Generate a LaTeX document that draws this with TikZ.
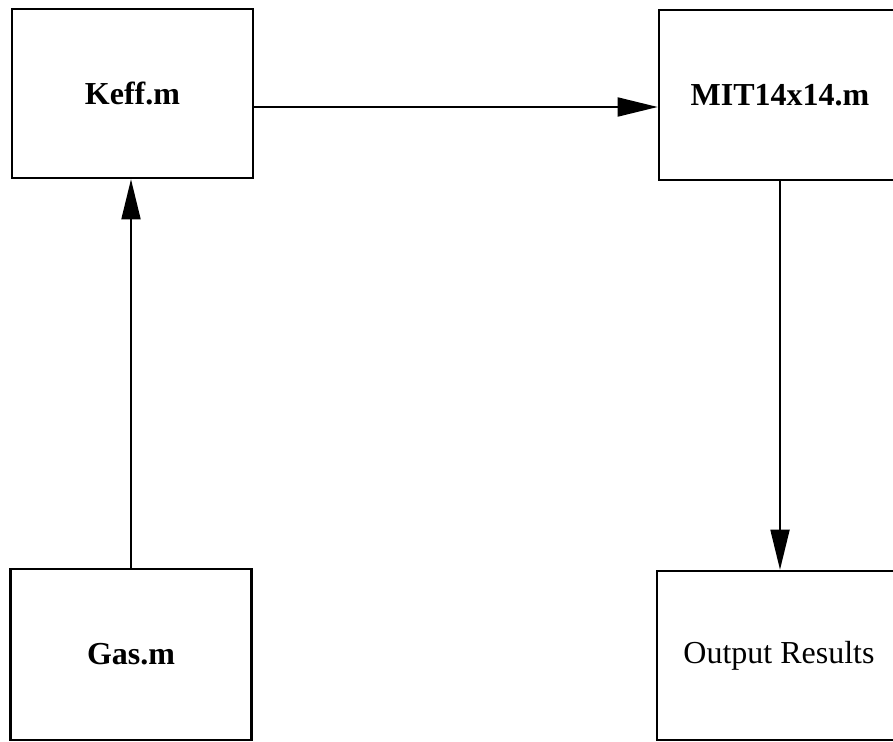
\documentclass[tikz,border=0pt]{standalone}
\usepackage{fontspec}
\setmainfont{Liberation Serif}
\usetikzlibrary{arrows.meta}
\begin{document}
\begin{tikzpicture}[x=1pt,y=-1pt,
  box/.style={draw=black, line width=2.6pt, rectangle, inner sep=0pt, font=\fontsize{32}{36}\selectfont},
  conn/.style={line width=1.8pt, -{Triangle[length=40pt,width=19pt]}}]
\useasboundingbox (0,0) rectangle (893,741);
\clip (0,0) rectangle (893,741);
\fill[white] (0,0) rectangle (893,741);
\node[box, minimum width=241pt, minimum height=169pt] (keff) at (132.5,93.5) {\textbf{Keff.m}};
\node[box, minimum width=242pt, minimum height=170pt] (mit) at (780,95) {\textbf{MIT14x14.m}};
\node[box, minimum width=241pt, minimum height=171pt] (gas) at (131,654.5) {\textbf{Gas.m}};
\node[box, minimum width=244pt, minimum height=169pt] (out) at (779,655.5) {Output Results};
\coordinate (ay) at (0,107);
\draw[conn] (keff.east |- ay) -- (mit.west |- ay);
\draw[conn] (gas.north) -- (gas.north |- keff.south);
\draw[conn] (mit.south) -- (mit.south |- out.north);
\end{tikzpicture}
\end{document}
